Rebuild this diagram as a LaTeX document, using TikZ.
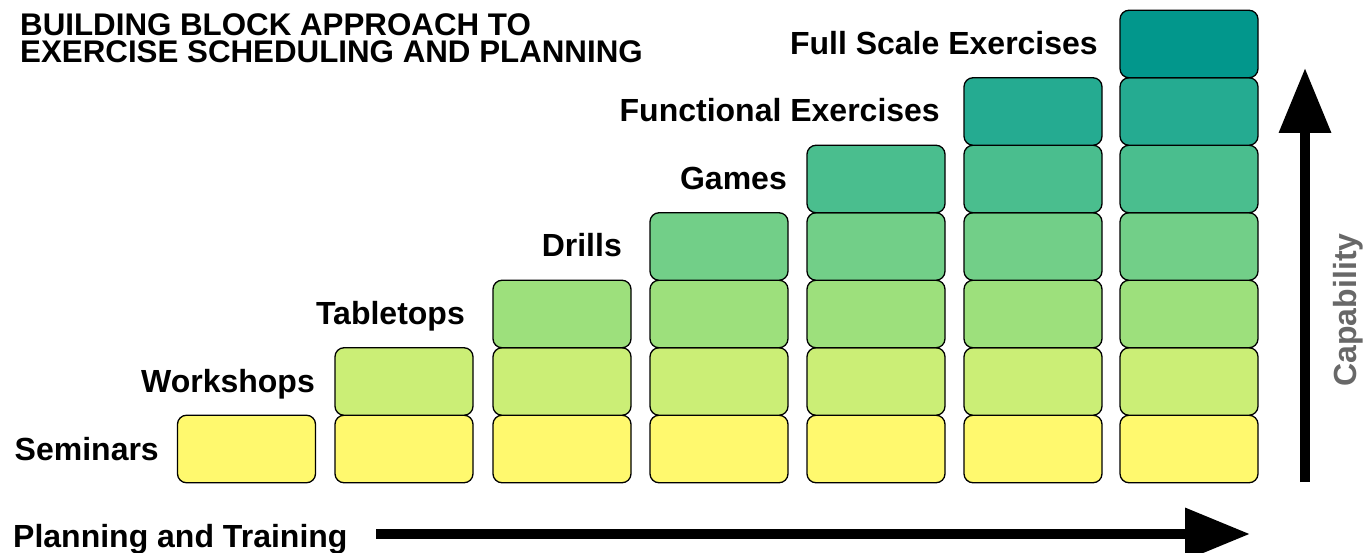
\documentclass[tikz,border=0pt]{standalone}
\usepackage{fontspec}
\setmainfont{Liberation Sans}
\usetikzlibrary{arrows.meta}
\definecolor{rowA}{HTML}{FFF96E}
\definecolor{rowB}{HTML}{CBEE76}
\definecolor{rowC}{HTML}{9DE07C}
\definecolor{rowD}{HTML}{72CF88}
\definecolor{rowE}{HTML}{4ABE8E}
\definecolor{rowF}{HTML}{25AB91}
\definecolor{rowG}{HTML}{02978C}
\definecolor{capgray}{HTML}{686868}
\tikzset{
  blk/.style={draw=black, line width=1.3pt, rounded corners=9pt, minimum width=138pt, minimum height=67.5pt, inner sep=0pt, outer sep=0pt},
  lbl/.style={font=\fontsize{32}{36}\selectfont\bfseries, inner sep=0pt, anchor=base east},
  bigarrow/.style={line width=10pt, -{Triangle[length=65pt,width=50pt]}},
}
\begin{document}
\begin{tikzpicture}[x=1pt,y=-1pt]
\useasboundingbox (0,0) rectangle (1363,553);
% title
\node[font=\fontsize{31.3}{27}\selectfont\bfseries, anchor=base west, inner sep=0pt, align=left] (title) at (20,63) {BUILDING BLOCK APPROACH TO\\EXERCISE SCHEDULING AND PLANNING};
% blocks
\foreach \c/\cx in {1/246.5,2/404,3/562,4/719,5/876,6/1033,7/1189}{
  \foreach \r/\rc in {1/rowA,2/rowB,3/rowC,4/rowD,5/rowE,6/rowF,7/rowG}{
    \ifnum\r>\c\else
      \node[blk, fill=\rc] (b\c\r) at (\cx,{449-67.5*(\r-1)}) {};
    \fi
  }
}
% labels
\node[lbl] (l1) at (159,460) {Seminars};
\node[lbl] (l2) at (315,392.5) {Workshops};
\node[lbl] (l3) at (465,325) {Tabletops};
\node[lbl] (l4) at (622,257) {Drills};
\node[lbl] (l5) at (787,190) {Games};
\node[lbl] (l6) at (940,122) {Functional Exercises};
\node[lbl] (l7) at (1098,55) {Full Scale Exercises};
% axes
\node[font=\fontsize{32}{36}\selectfont\bfseries, inner sep=0pt, anchor=base west] (xlab) at (13,547) {Planning and Training};
\coordinate (xs) at (376,534);
\coordinate (xe) at (1250,534);
\draw[bigarrow] (xs) -- (xe);
\coordinate (ys) at (1305,482);
\coordinate (ye) at (1305,68);
\draw[bigarrow] (ys) -- (ye);
\node[font=\fontsize{32}{36}\selectfont\bfseries, text=capgray, inner sep=0pt, rotate=90, anchor=base] (ylab) at (1356,310) {Capability};
\end{tikzpicture}
\end{document}
